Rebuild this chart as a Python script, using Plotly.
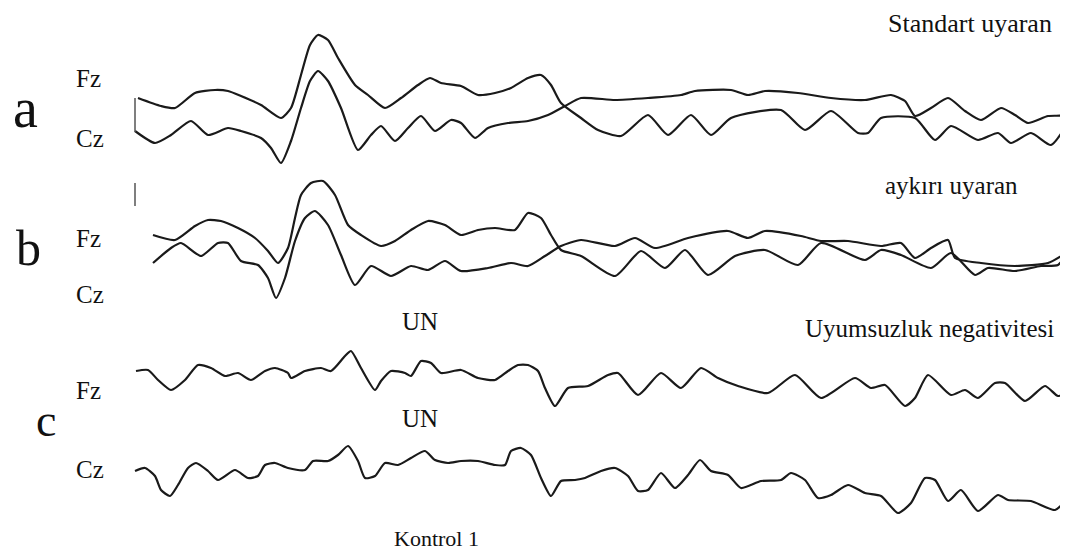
import plotly.graph_objects as go

# ---- data (time axis in sample units, amplitude in plot units) ----
a_fz_t = [130,153,167,187,207,220,233,253,273,283,293,302,310,320,330,347,360,377,393,410,422,433,453,470,487,503,520,533,543,553,573,590,613,640,660,683,703,723,773,797,823,850,860,873,907,927,943,970,990,1003,1023,1043,1058]
a_fz_v = [90,98,100,85,82,83,88,97,110,100,67,37,27,32,50,77,87,100,90,77,70,75,78,87,85,80,70,67,77,95,110,122,128,107,127,107,127,110,102,122,103,125,125,110,110,132,118,132,125,135,125,137,118]
a_cz_t = [127,147,163,183,200,220,233,253,263,273,283,293,302,310,320,333,350,363,373,387,400,413,427,443,453,467,480,500,520,540,557,573,607,640,673,687,723,740,757,790,823,857,883,897,907,923,940,957,973,993,1007,1020,1040,1057,1060]
a_cz_v = [123,135,127,113,127,120,123,130,140,155,133,100,73,63,73,100,142,127,118,133,120,108,123,112,115,130,120,115,113,107,98,90,92,90,87,83,82,87,83,85,90,92,87,93,108,100,90,103,112,100,107,115,108,107,100]

b_fz_t = [145,167,187,200,213,230,247,260,270,280,287,293,303,315,327,340,353,373,387,403,420,437,453,470,487,507,520,533,543,553,573,607,633,657,677,700,727,757,790,813,857,873,893,923,943,967,980,1007,1033,1050,1058]
b_fz_v = [227,232,218,212,213,220,230,243,255,240,210,187,175,173,187,217,227,238,233,222,213,217,227,222,220,222,205,210,227,242,248,268,243,260,242,267,248,242,257,235,252,242,247,260,245,267,260,263,258,257,247]
b_cz_t = [145,163,173,193,210,220,233,250,260,268,277,287,297,307,320,333,347,363,383,403,420,437,453,480,503,520,537,553,573,607,627,647,680,720,740,757,793,813,840,873,893,907,923,940,947,973,1007,1040,1058]
b_cz_v = [255,240,235,248,235,235,253,257,270,290,270,233,210,203,217,247,277,258,268,258,262,253,263,260,255,258,248,238,232,238,230,240,230,223,230,223,228,233,233,238,235,250,240,232,250,255,258,255,245]

c_fz_t = [128,140,150,163,177,190,203,217,230,243,257,267,280,283,297,313,323,337,343,353,367,373,383,397,403,413,423,433,453,470,487,500,510,520,530,537,547,560,580,600,610,630,653,673,693,710,730,760,787,813,847,863,877,897,907,920,943,957,970,987,997,1017,1037,1050,1060]
c_fz_v = [363,362,372,382,372,357,360,368,365,372,363,360,365,370,363,360,363,348,343,360,382,373,363,365,368,353,355,365,362,370,372,363,357,357,363,380,398,380,378,367,365,387,365,380,360,370,378,385,367,390,370,380,377,398,390,367,387,382,390,375,375,393,378,388,383]
c_cz_t = [127,137,147,153,162,170,180,188,200,210,227,240,250,257,267,280,297,305,320,330,340,350,357,367,377,390,403,417,427,440,453,470,487,497,503,513,523,533,543,553,567,577,593,607,620,630,640,653,667,680,692,703,720,733,753,773,783,797,810,823,840,857,873,890,903,917,927,940,953,970,990,1000,1023,1047,1060]
c_cz_v = [463,460,468,482,488,477,460,455,463,472,462,470,468,457,455,460,462,453,453,447,438,453,470,468,455,457,450,443,452,455,453,453,457,457,443,440,447,470,488,473,472,470,463,460,468,483,482,465,480,467,452,463,467,480,473,472,465,472,490,487,477,485,488,505,495,470,472,493,482,503,487,492,493,502,490]

calib_t = [127, 127]
calib_a = [90, 124]
calib_b = [175, 198]

traces = [
    (a_fz_t, a_fz_v), (a_cz_t, a_cz_v),
    (b_fz_t, b_fz_v), (b_cz_t, b_cz_v),
    (c_fz_t, c_fz_v), (c_cz_t, c_cz_v),
]

fig = go.Figure()
for t, v in traces:
    fig.add_trace(go.Scatter(x=t, y=v, mode="lines",
                             line=dict(color="#1a1a1a", width=2.2, shape="spline", smoothing=0.6),
                             hoverinfo="skip", showlegend=False))
for cv in (calib_a, calib_b):
    fig.add_trace(go.Scatter(x=calib_t, y=cv, mode="lines",
                             line=dict(color="#555555", width=1.5),
                             hoverinfo="skip", showlegend=False))

serif = "Liberation Serif"
labels = [
    ("Standart uyaran", 1046, 15, 26, "right"),
    ("aykırı uyaran", 1012, 177, 25, "right"),
    ("Uyumsuzluk negativitesi", 1048, 320, 25, "right"),
    ("UN", 412, 313, 25, "center"),
    ("UN", 412, 410, 25, "center"),
    ("Kontrol 1", 428, 530, 22, "center"),
    ("Fz", 80, 70, 25, "center"),
    ("Cz", 82, 130, 25, "center"),
    ("Fz", 80, 230, 25, "center"),
    ("Cz", 82, 286, 25, "center"),
    ("Fz", 80, 382, 25, "center"),
    ("Cz", 82, 461, 25, "center"),
    ("a", 17, 100, 56, "center"),
    ("b", 20, 240, 50, "center"),
    ("c", 38, 412, 46, "center"),
]
for txt, x, y, size, anchor in labels:
    fig.add_annotation(x=x, y=y, xref="x", yref="y", text=txt, showarrow=False,
                       xanchor=anchor, yanchor="middle",
                       font=dict(family=serif, size=size, color="#111111"))

fig.update_xaxes(range=[0, 1068], visible=False, fixedrange=True)
fig.update_yaxes(range=[554, 0], visible=False, fixedrange=True)
fig.update_layout(width=1068, height=554, margin=dict(l=0, r=0, t=0, b=0),
                  paper_bgcolor="white", plot_bgcolor="white")
fig.write_html("out.html")
